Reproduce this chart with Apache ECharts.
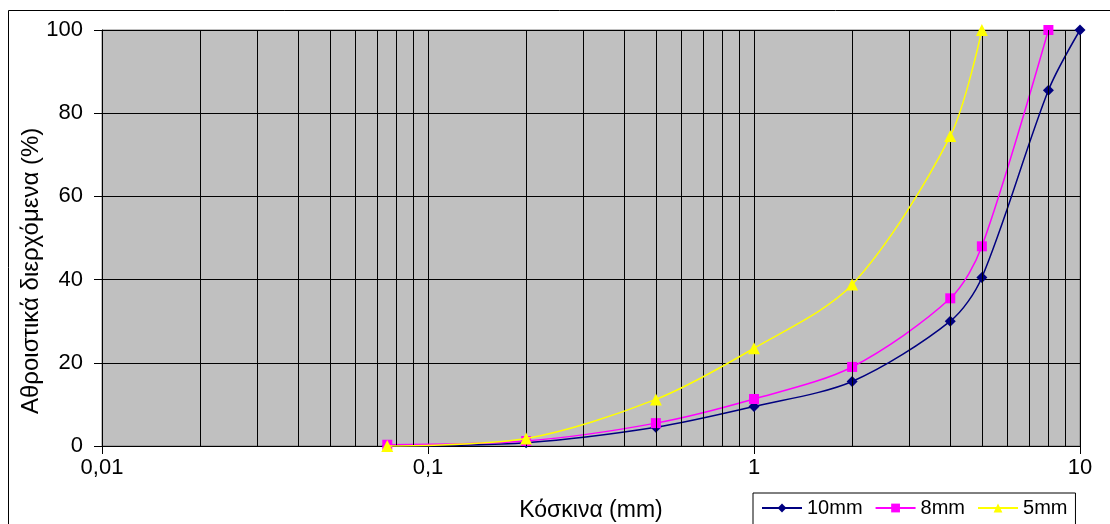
<!DOCTYPE html>
<html>
<head>
<meta charset="utf-8">
<script src="https://cdn.jsdelivr.net/npm/echarts@6/dist/echarts.min.js"></script>
<style>
  html, body { margin: 0; padding: 0; background: #fff; }
  #chart { width: 1110px; height: 524px; }
</style>
</head>
<body>
<div id="chart"></div>
<script>
// sieve sizes (mm) and cumulative passing (%)
var sieves10 = [0.075, 0.2, 0.5, 1, 2, 4, 5, 8, 10];
var pass10 = [0, 0.8, 4.5, 9.5, 15.5, 30, 40.5, 85.5, 100];
var sieves8 = [0.075, 0.2, 0.5, 1, 2, 4, 5, 8];
var pass8 = [0.3, 1.2, 5.5, 11.3, 19, 35.5, 48, 100];
var sieves5 = [0.075, 0.2, 0.5, 1, 2, 4, 5];
var pass5 = [0, 1.8, 11.2, 23.5, 38.8, 74.5, 100];
var seriesNames = ['10mm', '8mm', '5mm'];
var minorGrid = [0.02, 0.03, 0.04, 0.05, 0.06, 0.07, 0.08, 0.09,
                 0.2, 0.3, 0.4, 0.5, 0.6, 0.7, 0.8, 0.9,
                 2, 3, 4, 5, 6, 7, 8, 9];

function pairs(xs, ys) {
  return xs.map(function (x, i) { return [x, ys[i]]; });
}
function fmt(v) {
  return String(v).replace('.', ',');
}

var font = 'Liberation Sans, Arial, sans-serif';
var chart = echarts.init(document.getElementById('chart'));

chart.setOption({
  animation: false,
  textStyle: { fontFamily: font },
  graphic: [{
    type: 'rect',
    shape: { x: 8.5, y: 10.5, width: 1200, height: 600 },
    style: { fill: 'none', stroke: '#000', lineWidth: 1 },
    z: -10
  }, {
    // y axis title (sits low, as in the original)
    type: 'text',
    x: 31, y: 414, rotation: Math.PI / 2,
    style: {
      text: 'Αθροιστικά διερχόμενα (%)',
      font: '24px Liberation Sans, Arial, sans-serif',
      fill: '#000', align: 'left', verticalAlign: 'middle'
    }
  }],
  grid: {
    left: 102, top: 30, right: 30, bottom: 78,
    outerBoundsMode: 'none',
    show: true, backgroundColor: '#c0c0c0', borderColor: '#808080', borderWidth: 1
  },
  legend: {
    left: 753, top: 493,
    backgroundColor: '#fff', borderColor: '#000', borderWidth: 1,
    padding: [5, 8, 10, 8],
    itemWidth: 40, itemHeight: 11, itemGap: 12,
    textStyle: { fontSize: 20, color: '#000', fontFamily: font },
    data: seriesNames
  },
  xAxis: {
    type: 'log', logBase: 10, min: 0.01, max: 10,
    name: 'Κόσκινα (mm)', nameLocation: 'middle', nameGap: 53,
    nameTextStyle: { fontSize: 23, color: '#000' },
    axisLine: { onZero: false, lineStyle: { color: '#000', width: 1 } },
    axisTick: { show: true, length: 8, lineStyle: { color: '#000' } },
    axisLabel: { fontSize: 22, color: '#000', margin: 11, formatter: fmt },
    splitLine: { show: true, lineStyle: { color: '#000', width: 1 } }
  },
  yAxis: {
    type: 'value', min: 0, max: 100, interval: 20,
    axisLine: { show: true, lineStyle: { color: '#000', width: 1 } },
    axisTick: { show: true, length: 8, lineStyle: { color: '#000' } },
    axisLabel: { fontSize: 22, color: '#000', margin: 19 },
    splitLine: { show: true, lineStyle: { color: '#000', width: 1 } }
  },
  series: [
    {
      name: 'grid', type: 'line', data: [], silent: true,
      markLine: {
        silent: true, symbol: 'none', animation: false,
        label: { show: false },
        lineStyle: { color: '#000', width: 1, type: 'solid' },
        data: minorGrid.map(function (v) { return { xAxis: v }; })
      }
    },
    {
      name: seriesNames[0], type: 'line', smooth: 0.3,
      data: pairs(sieves10, pass10),
      symbol: 'diamond', symbolSize: 11,
      itemStyle: { color: '#000080' },
      lineStyle: { color: '#000080', width: 1.5 }, z: 3
    },
    {
      name: seriesNames[1], type: 'line', smooth: 0.3,
      data: pairs(sieves8, pass8),
      symbol: 'rect', symbolSize: 10,
      itemStyle: { color: '#ff00ff' },
      lineStyle: { color: '#ff00ff', width: 1.5 }, z: 4
    },
    {
      name: seriesNames[2], type: 'line', smooth: 0.3,
      data: pairs(sieves5, pass5),
      symbol: 'triangle', symbolSize: 12,
      itemStyle: { color: '#ffff00' },
      lineStyle: { color: '#ffff00', width: 1.5 }, z: 5
    }
  ]
});
</script>
</body>
</html>
